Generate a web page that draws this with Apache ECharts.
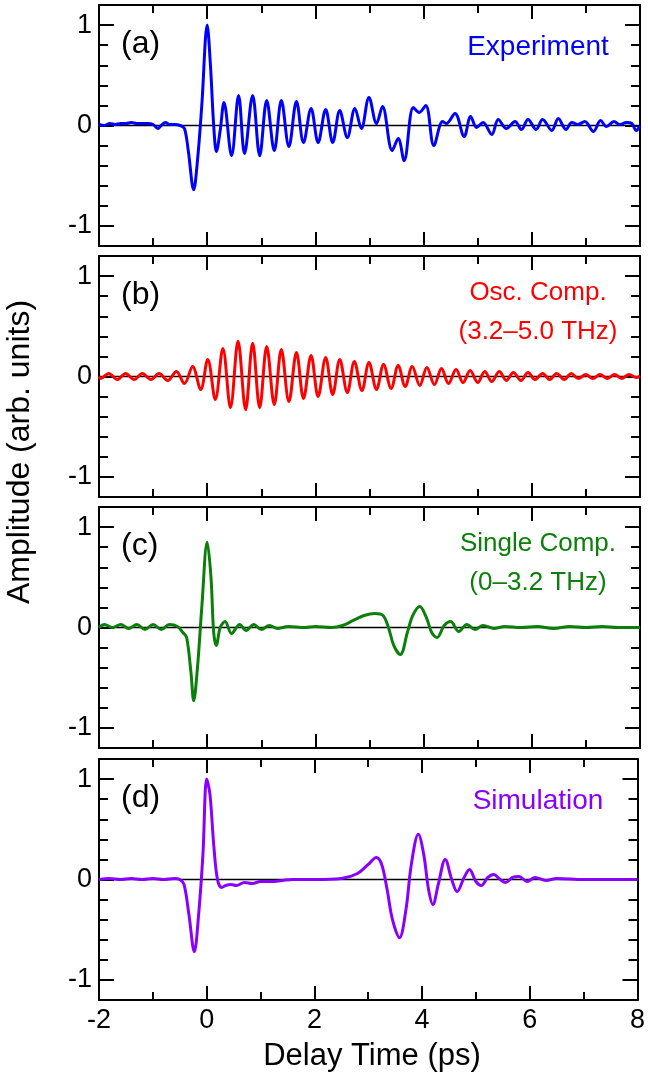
<!DOCTYPE html>
<html>
<head>
<meta charset="utf-8">
<script src="https://cdn.jsdelivr.net/npm/echarts@6/dist/echarts.min.js"></script>
<style>
html,body{margin:0;padding:0;background:#fff;}
#chart{width:648px;height:1088px;}
</style>
</head>
<body>
<div id="chart"></div>
<script>
// ---- Data (delay time in ps, amplitude in arb. units) ----
var xTicks = [-2, 0, 2, 4, 6, 8];
var yTickLabels = [-1, 0, 1];
var yMinorTicks = [-0.8, -0.6, -0.4, -0.2, 0.2, 0.4, 0.6, 0.8];

var panelLabels = ['(a)', '(b)', '(c)', '(d)'];
var seriesNames = [['Experiment'], ['Osc. Comp.', '(3.2\u20135.0 THz)'], ['Single Comp.', '(0\u20133.2 THz)'], ['Simulation']];

var expT = [-2.0,-1.9,-1.8,-1.7,-1.6,-1.5,-1.4,-1.3,-1.2,-1.1,-1.0,-0.91,-0.85,-0.77,-0.7,-0.6,-0.5,-0.42,-0.35,-0.25,-0.18,-0.1,0.0,0.06,0.12,0.17,0.24,0.31,0.45,0.58,0.69,0.84,0.97,1.10,1.24,1.37,1.51,1.65,1.78,1.92,2.05,2.19,2.32,2.45,2.59,2.73,2.85,2.99,3.13,3.24,3.42,3.53,3.64,3.81,3.92,4.04,4.19,4.35,4.42,4.58,4.75,4.87,4.98,5.10,5.26,5.38,5.53,5.69,5.81,5.93,6.08,6.20,6.37,6.49,6.63,6.74,6.85,6.98,7.14,7.27,7.38,7.52,7.62,7.75,7.85,7.93,8.0];
var expV = [0.01,0.0,0.02,0.01,0.02,0.02,0.03,0.02,0.02,0.02,0.01,-0.03,0.0,0.03,0.01,0.01,0.0,-0.03,-0.25,-0.64,-0.35,0.2,1.0,0.6,0.0,-0.26,-0.05,0.23,-0.3,0.30,-0.28,0.30,-0.30,0.25,-0.25,0.25,-0.21,0.24,-0.17,0.17,-0.17,0.16,-0.17,0.15,-0.12,0.17,-0.03,0.28,0.02,0.19,-0.25,-0.13,-0.35,0.18,0.13,0.20,-0.20,0.04,0.02,0.12,-0.11,0.09,-0.02,0.03,-0.09,0.06,-0.03,0.04,-0.04,0.06,-0.04,0.06,-0.05,0.07,-0.04,0.03,0.01,0.04,-0.06,0.05,-0.01,0.04,0.01,0.03,0.02,-0.05,0.0];

var oscT = [-2.0,-1.97,-1.82,-1.66,-1.51,-1.35,-1.20,-1.04,-0.89,-0.73,-0.57,-0.42,-0.27,-0.12,0.01,0.15,0.29,0.43,0.57,0.71,0.84,0.97,1.10,1.24,1.37,1.51,1.65,1.78,1.92,2.05,2.19,2.32,2.45,2.59,2.72,2.86,2.99,3.13,3.26,3.40,3.53,3.66,3.79,3.93,4.06,4.20,4.33,4.46,4.60,4.73,4.86,5.00,5.13,5.26,5.40,5.53,5.66,5.80,5.93,6.06,6.20,6.33,6.46,6.60,6.73,6.86,7.00,7.13,7.26,7.40,7.53,7.66,7.80,7.93,8.0];
var oscV = [0.0,-0.02,0.03,-0.03,0.03,-0.03,0.03,-0.03,0.03,-0.04,0.05,-0.07,0.10,-0.13,0.17,-0.23,0.28,-0.31,0.35,-0.33,0.33,-0.31,0.30,-0.28,0.27,-0.25,0.24,-0.22,0.21,-0.20,0.19,-0.18,0.17,-0.16,0.15,-0.14,0.14,-0.13,0.12,-0.12,0.11,-0.10,0.10,-0.09,0.09,-0.08,0.08,-0.07,0.07,-0.06,0.06,-0.06,0.05,-0.05,0.05,-0.04,0.04,-0.04,0.04,-0.03,0.03,-0.03,0.03,-0.03,0.03,-0.02,0.02,-0.02,0.02,-0.02,0.02,-0.02,0.02,-0.01,0.0];

var sglT = [-2.0,-1.9,-1.75,-1.6,-1.45,-1.3,-1.15,-1.0,-0.85,-0.7,-0.55,-0.45,-0.38,-0.3,-0.25,-0.18,-0.1,0.0,0.07,0.12,0.17,0.24,0.33,0.45,0.6,0.72,0.86,1.0,1.15,1.3,1.5,1.8,2.0,2.3,2.5,2.7,2.9,3.1,3.25,3.35,3.45,3.57,3.7,3.8,3.93,4.05,4.15,4.25,4.38,4.5,4.65,4.8,4.95,5.1,5.3,5.5,5.8,6.1,6.4,6.7,7.0,7.3,7.6,8.0];
var sglV = [0.0,0.03,0.0,0.03,-0.01,0.03,-0.02,0.03,-0.02,0.03,0.01,-0.05,-0.1,-0.45,-0.73,-0.4,0.2,0.85,0.5,-0.05,-0.18,0.0,0.06,-0.06,0.03,-0.03,0.03,-0.02,0.02,-0.01,0.01,0.0,0.01,0.0,0.02,0.07,0.12,0.14,0.12,0.0,-0.18,-0.27,-0.05,0.12,0.21,0.1,-0.05,-0.10,0.02,0.06,-0.04,0.03,-0.02,0.02,-0.01,0.01,0.0,0.01,-0.01,0.01,0.0,0.01,0.0,0.0];

var simT = [-2.0,-1.8,-1.6,-1.4,-1.2,-1.0,-0.8,-0.6,-0.5,-0.42,-0.33,-0.23,-0.15,-0.07,0.0,0.06,0.13,0.2,0.28,0.35,0.45,0.55,0.7,0.85,1.0,1.2,1.4,1.6,2.0,2.5,2.8,3.0,3.15,3.25,3.35,3.45,3.58,3.7,3.8,3.93,4.03,4.12,4.2,4.3,4.43,4.55,4.65,4.78,4.88,5.0,5.1,5.22,5.33,5.45,5.55,5.68,5.8,5.95,6.1,6.3,6.5,7.0,7.5,8.0];
var simV = [0.0,0.01,0.0,0.01,0.0,0.01,0.0,0.01,0.0,-0.05,-0.35,-0.72,-0.35,0.25,1.0,0.85,0.35,0.0,-0.08,-0.06,-0.05,-0.06,-0.03,-0.04,-0.02,-0.02,-0.01,0.0,0.0,0.01,0.06,0.15,0.22,0.15,-0.1,-0.4,-0.58,-0.3,0.15,0.45,0.25,-0.1,-0.25,-0.05,0.2,0.0,-0.12,0.02,0.1,-0.02,-0.06,0.02,0.05,0.0,-0.03,0.02,0.03,-0.02,0.02,-0.01,0.01,0.0,0.0,0.0];

var panelT = [expT, oscT, sglT, simT];
var panelV = [expV, oscV, sglV, simV];
var colors = ['#0000ff', '#ff0000', '#0a800a', '#8a00ff'];

// ---- Layout ----
var FONT = 'Liberation Sans, Arial, Helvetica, sans-serif';
var gridLeft = 99, gridRight = 8, gridH = 241;
var gridTops = [5, 256, 507, 759];

function zip(t, v) { var out = []; for (var i = 0; i < t.length; i++) out.push([t[i], v[i]]); return out; }

var grids = [], xAxes = [], yAxes = [], series = [], graphics = [];
for (var p = 0; p < 4; p++) {
  grids.push({ left: gridLeft, right: gridRight, top: gridTops[p], height: gridH, show: false });
  ['bottom', 'top'].forEach(function (pos) {
    xAxes.push({
      type: 'value', gridIndex: p, position: pos, min: -2, max: 8, interval: 2,
      axisLine: { show: true, onZero: false, lineStyle: { color: '#000', width: 2 } },
      axisTick: { show: true, inside: true, length: 14, lineStyle: { color: '#000', width: 2 } },
      minorTick: { show: true, splitNumber: 2, length: 8, lineStyle: { color: '#000', width: 2 } },
      axisLabel: { show: (pos === 'bottom' && p === 3), fontSize: 27, color: '#000', fontFamily: FONT, margin: 7 },
      splitLine: { show: false }, minorSplitLine: { show: false }
    });
  });
  ['left', 'right'].forEach(function (pos) {
    yAxes.push({
      type: 'value', gridIndex: p, position: pos, min: -1.2, max: 1.2,
      axisLine: { show: true, onZero: false, lineStyle: { color: '#000', width: 2 } },
      axisTick: { show: true, inside: true, length: 15, customValues: yTickLabels, lineStyle: { color: '#000', width: 2 } },
      axisLabel: { show: pos === 'left', customValues: yTickLabels, fontSize: 27, color: '#000', fontFamily: FONT, margin: 7 },
      splitLine: { show: false }
    });
    yAxes.push({
      type: 'value', gridIndex: p, position: pos, min: -1.2, max: 1.2,
      axisLine: { show: false, onZero: false },
      axisTick: { show: true, inside: true, length: 9, customValues: yMinorTicks, lineStyle: { color: '#000', width: 2 } },
      axisLabel: { show: false },
      splitLine: { show: false }
    });
  });
  series.push({
    type: 'line', xAxisIndex: p * 2, yAxisIndex: p * 4, data: [[-2, 0], [8, 0]],
    symbol: 'none', silent: true, lineStyle: { color: '#000', width: 1.5 }, z: 1
  });
  series.push({
    type: 'line', xAxisIndex: p * 2, yAxisIndex: p * 4, data: zip(panelT[p], panelV[p]),
    symbol: 'none', smooth: 0.35, lineStyle: { color: colors[p], width: 3 }, z: 2
  });
  graphics.push({
    type: 'text', left: 121, top: gridTops[p] + 23,
    style: { text: panelLabels[p], fontSize: 32, fontFamily: FONT, fill: '#000' }
  });
  var names = seriesNames[p];
  var twoLine = names.length > 1;
  for (var k = 0; k < names.length; k++) {
    graphics.push({
      type: 'text', x: 538, y: gridTops[p] + (twoLine ? 37 + k * 39 : 42),
      style: { text: names[k], fontSize: twoLine ? 26 : 28, fontFamily: FONT, fill: colors[p], textAlign: 'center', textVerticalAlign: 'middle' }
    });
  }
}
graphics.push({
  type: 'text', x: 372, y: 1056,
  style: { text: 'Delay Time (ps)', fontSize: 31, fontFamily: FONT, fill: '#000', textAlign: 'center', textVerticalAlign: 'middle' }
});
graphics.push({
  type: 'text', x: 20, y: 452, rotation: Math.PI / 2,
  style: { text: 'Amplitude (arb. units)', fontSize: 32, fontFamily: FONT, fill: '#000', textAlign: 'center', textVerticalAlign: 'middle' }
});

var chart = echarts.init(document.getElementById('chart'), null, { renderer: 'canvas' });
chart.setOption({
  animation: false,
  backgroundColor: '#fff',
  grid: grids, xAxis: xAxes, yAxis: yAxes, series: series, graphic: graphics
});
</script>
</body>
</html>
